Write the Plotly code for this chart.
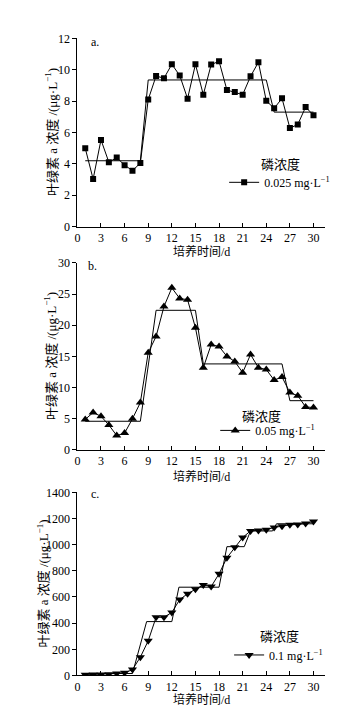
import plotly.graph_objects as go

days = list(range(1, 31))

# Panel a: 0.025 mg/L
chl_a = [5.0, 3.03, 5.53, 4.11, 4.40, 3.92, 3.57, 4.05, 8.10, 9.60,
         9.46, 10.35, 9.64, 8.16, 10.35, 8.41, 10.33, 10.54, 8.71, 8.58,
         8.41, 9.58, 10.48, 8.02, 7.54, 8.18, 6.28, 6.51, 7.62, 7.10]
step_a_x = [1, 8, 9, 24, 25, 30]
step_a_y = [4.2, 4.2, 9.35, 9.35, 7.3, 7.3]

# Panel b: 0.05 mg/L
chl_b = [4.9, 6.0, 5.4, 4.0, 2.3, 2.7, 5.0, 7.6, 15.6, 18.2,
         23.0, 26.0, 24.3, 24.1, 19.6, 13.2, 16.9, 16.6, 15.0, 14.2,
         12.4, 15.3, 13.2, 12.9, 11.2, 11.7, 9.2, 8.7, 6.9, 6.8]
step_b_x = [1, 8, 10, 15, 16, 26, 27, 30]
step_b_y = [4.6, 4.6, 22.4, 22.4, 13.8, 13.8, 7.9, 7.9]

# Panel c: 0.1 mg/L
chl_c = [5, 7, 7, 10, 15, 20, 45, 140, 265, 445,
         445, 482, 580, 625, 660, 692, 680, 777, 900, 980,
         1055, 1105, 1108, 1115, 1132, 1142, 1152, 1155, 1162, 1178]
step_c_x = [1, 7, 8.8, 12, 12.9, 18, 19, 21.2, 22, 24.8, 25.3, 30]
step_c_y = [15, 15, 412, 412, 675, 675, 985, 985, 1105, 1105, 1160, 1160]

x_ticks = [0, 3, 6, 9, 12, 15, 18, 21, 24, 27, 30]
ya_ticks = [0, 2, 4, 6, 8, 10, 12]
yb_ticks = [0, 5, 10, 15, 20, 25, 30]
yc_ticks = [0, 200, 400, 600, 800, 1000, 1200, 1400]

legend_title = "磷浓度"
names = ["0.025 mg·L<sup>−1</sup>", "0.05 mg·L<sup>−1</sup>", "0.1 mg·L<sup>−1</sup>"]
panel_labels = ["a.", "b.", "c."]
x_title = "培养时间/d"
y_title = "叶绿素 a 浓度 /(μg·L<sup>−1</sup>)"

W, H = 362, 721
FONT = "Liberation Serif, Noto Sans CJK SC, serif"

def py(p):
    return 1 - p / H

def px(p):
    return p / W

fig = go.Figure()

panels = [
    (chl_a, step_a_x, step_a_y, "square", 6, "x", "y", "legend"),
    (chl_b, step_b_x, step_b_y, "triangle-up", 8, "x2", "y2", "legend2"),
    (chl_c, step_c_x, step_c_y, "triangle-down", 8, "x3", "y3", "legend3"),
]
for i, (vals, sx, sy, sym, ms, xa, ya, lg) in enumerate(panels):
    fig.add_trace(go.Scatter(x=sx, y=sy, mode="lines", line=dict(color="black", width=1),
                             xaxis=xa, yaxis=ya, showlegend=False, hoverinfo="skip"))
    fig.add_trace(go.Scatter(x=days, y=vals, mode="lines+markers", name=names[i],
                             line=dict(color="black", width=1),
                             marker=dict(symbol=sym, size=ms, color="black"),
                             xaxis=xa, yaxis=ya, legend=lg, showlegend=True))

x_dom = [px(75), px(325)]
y_doms = [
    [py(224), py(32)],
    [py(451.7), py(261)],
    [py(681.7), py(495)],
]
y_ranges = [[0, 12], [0, 30], [0, 1400]]
y_tick_sets = [ya_ticks, yb_ticks, yc_ticks]

axis_common = dict(showline=True, linecolor="black", linewidth=1, showgrid=False, zeroline=False,
                   tickfont=dict(family=FONT, size=12, color="black"), tickcolor="black")

layout = dict(
    width=W, height=H, margin=dict(l=0, r=0, t=0, b=0),
    paper_bgcolor="white", plot_bgcolor="white",
    font=dict(family=FONT, color="black", size=12),
)
for i in range(3):
    sfx = "" if i == 0 else str(i + 1)
    layout["xaxis" + sfx] = dict(domain=x_dom, range=[0, 31.5], tickmode="array", tickvals=x_ticks,
                                 ticks="inside", ticklen=4, anchor="y" + sfx, **axis_common)
    layout["yaxis" + sfx] = dict(domain=y_doms[i], range=y_ranges[i], tickmode="array",
                                 tickvals=y_tick_sets[i], ticks="outside", ticklen=4,
                                 anchor="x" + sfx, **axis_common)

# legend entry boxes (left edge, top) in pixels
legend_pos = [(223, 164), (214, 417), (228, 646)]
for i in range(3):
    key = "legend" if i == 0 else "legend" + str(i + 1)
    lx, ly = legend_pos[i]
    layout[key] = dict(x=px(lx), y=py(ly), xanchor="left", yanchor="top",
                       bgcolor="rgba(0,0,0,0)", itemwidth=30,
                       font=dict(family=FONT, size=12, color="black"), tracegroupgap=0)

fig.update_layout(**layout)

annots = []
label_pos = [(93, 36), (90, 264), (93, 497)]
xt_pos = [249, 479, 706]
yt_x = [48, 48, 40]
ymid = [(224 + 32) / 2, (451.7 + 261) / 2, (681.7 + 495) / 2]
ltitle_pos = [(280, 161), (261, 418), (279, 642)]
for i in range(3):
    lx, ly = label_pos[i]
    annots.append(dict(text=panel_labels[i], x=px(lx), y=py(ly), xref="paper", yref="paper",
                       showarrow=False, xanchor="center", yanchor="middle",
                       font=dict(family=FONT, size=12, color="black")))
    annots.append(dict(text=x_title, x=px(200), y=py(xt_pos[i]), xref="paper", yref="paper",
                       showarrow=False, xanchor="center", yanchor="middle",
                       font=dict(family=FONT, size=12, color="black")))
    annots.append(dict(text=y_title, x=px(yt_x[i]), y=py(ymid[i]), xref="paper", yref="paper",
                       showarrow=False, xanchor="center", yanchor="middle", textangle=-90,
                       font=dict(family=FONT, size=13, color="black")))
    tx, ty = ltitle_pos[i]
    annots.append(dict(text=legend_title, x=px(tx), y=py(ty), xref="paper", yref="paper",
                       showarrow=False, xanchor="center", yanchor="middle",
                       font=dict(family=FONT, size=13, color="black")))
fig.update_layout(annotations=annots)

fig.write_html("out.html", config={"displayModeBar": False},
               post_script="document.body.style.margin='0';document.body.style.overflow='hidden';")
